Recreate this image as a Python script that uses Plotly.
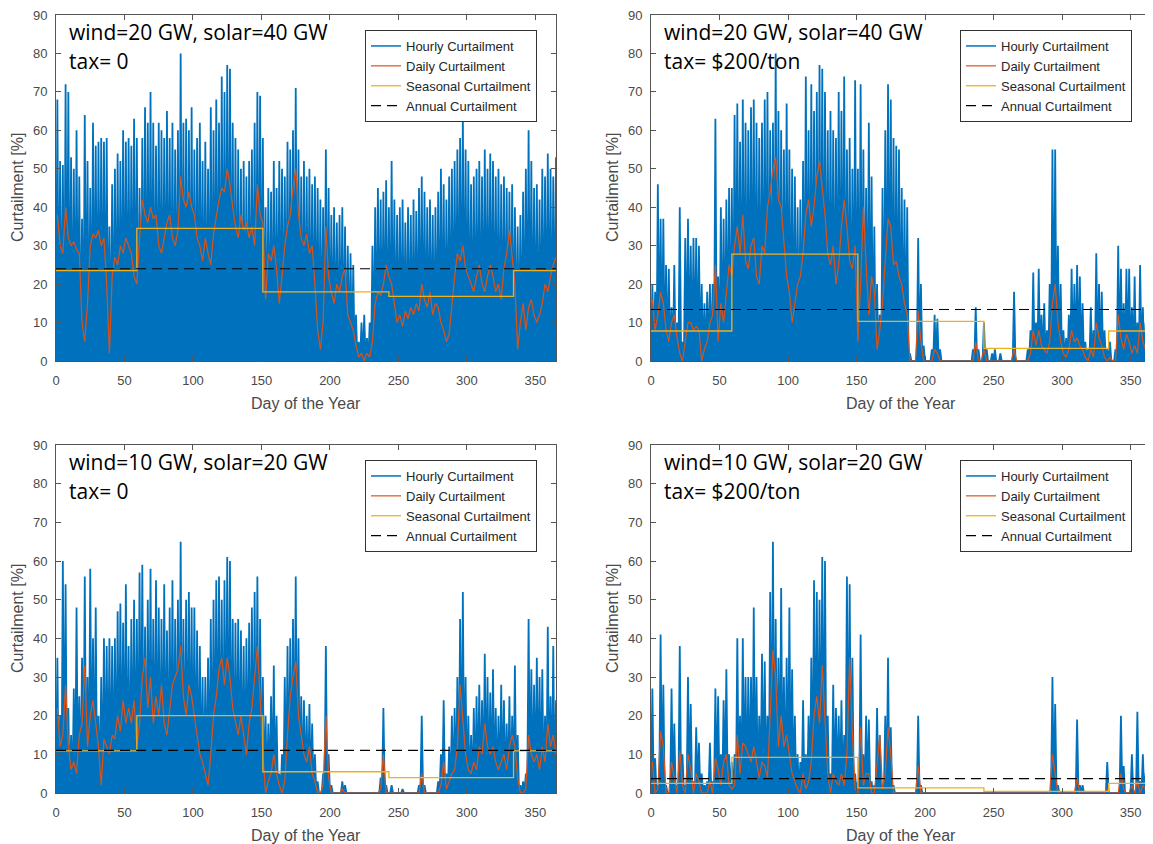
import plotly.graph_objects as go

# The page body has an 8 px margin, so the figure is drawn 8 px in from the
# top-left corner of the 1153x844 window; size and position are compensated.
PAGE_W, PAGE_H, OFF = 1153, 844, 8
W, H = PAGE_W - OFF, PAGE_H - OFF

# ---------------- data ----------------
days = list(range(1, 366, 2))                # 2-day bins, centre day
season_edges = [0, 59, 151, 243, 334, 365]   # Jan-Feb, Mar-May, Jun-Aug, Sep-Nov, Dec
x_ticks = [0, 50, 100, 150, 200, 250, 300, 350]
y_ticks = [0, 10, 20, 30, 40, 50, 60, 70, 80, 90]

# top-left: wind=20 GW, solar=40 GW, tax=0
TL_hourly_peak = [
    68, 52, 51, 72, 70, 53, 50, 60, 48, 37,
    64, 52, 45, 62, 56, 57, 58, 57, 58, 35,
    46, 50, 54, 52, 60, 57, 58, 56, 63, 58,
    45, 58, 66, 62, 70, 62, 56, 62, 60, 58,
    65, 58, 62, 55, 60, 80, 62, 63, 60, 66,
    55, 58, 62, 52, 57, 50, 66, 60, 68, 62,
    74, 70, 77, 76, 62, 58, 55, 50, 52, 48,
    52, 55, 62, 70, 69, 58, 40, 45, 44, 52,
    45, 52, 50, 48, 57, 55, 60, 71, 55, 48,
    52, 48, 50, 46, 48, 45, 42, 40, 55, 45,
    38, 40, 36, 38, 40, 35, 30, 28, 25, 12,
    5, 10, 12, 6, 10, 30, 40, 45, 42, 44,
    47, 40, 52, 42, 38, 40, 42, 36, 40, 38,
    42, 39, 45, 48, 44, 40, 42, 38, 40, 44,
    50, 46, 42, 48, 50, 52, 55, 58, 64, 55,
    52, 46, 48, 50, 52, 48, 55, 50, 54, 52,
    48, 50, 46, 48, 45, 44, 46, 40, 35, 38,
    44, 50, 60, 52, 45, 46, 42, 50, 48, 54,
    50, 48, 53]
TL_daily = [
    38, 30, 28, 40, 32, 30, 31, 29, 28, 10,
    5, 15, 30, 33, 32, 34, 30, 32, 20, 2,
    22, 27, 25, 30, 28, 32, 30, 28, 22, 20,
    32, 42, 38, 36, 40, 37, 38, 30, 28, 32,
    36, 38, 32, 30, 34, 48, 42, 40, 44, 40,
    38, 32, 30, 26, 32, 28, 25, 33, 38, 42,
    45, 44, 50, 46, 40, 35, 32, 38, 34, 36,
    32, 35, 30, 46, 38, 36, 16, 28, 26, 30,
    24, 15, 22, 30, 35, 38, 45, 50, 38, 32,
    30, 33, 28, 30, 20, 8, 3, 10, 35, 22,
    18, 15, 20, 18, 22, 24, 12, 10, 8, 4,
    1, 2, 0, 2, 1, 5, 15, 18, 17, 20,
    25, 22, 20, 15, 10, 12, 9, 13, 11, 14,
    12, 15, 13, 20, 16, 14, 18, 12, 15, 14,
    10, 8, 5, 7, 15, 22, 28, 26, 30, 24,
    22, 20, 18, 22, 25, 20, 18, 22, 25, 22,
    18, 20, 16, 24, 28, 34, 26, 20, 3, 10,
    15, 8, 14, 16, 12, 10, 12, 15, 20, 18,
    22, 25, 27]
TL_seasonal = [23.5, 34.5, 18.0, 16.8, 23.5]
TL_annual = 24.0

# top-right: wind=20 GW, solar=40 GW, tax=$200/ton
TR_hourly_peak = [
    20, 18, 46, 37, 37, 25, 24, 14, 25, 10,
    40, 5, 32, 37, 30, 32, 32, 30, 20, 15,
    18, 20, 20, 63, 22, 40, 37, 42, 45, 45,
    64, 67, 57, 68, 62, 60, 66, 68, 62, 58,
    62, 68, 70, 60, 62, 80, 65, 60, 55, 67,
    55, 50, 48, 40, 42, 52, 74, 60, 72, 65,
    70, 77, 76, 70, 60, 65, 60, 58, 70, 65,
    74, 55, 58, 50, 73, 50, 72, 55, 45, 62,
    48, 35, 20, 12, 45, 60, 72, 68, 58, 56,
    55, 45, 42, 40, 2, 0, 0, 32, 20, 4,
    0, 0, 3, 12, 11, 3, 0, 0, 0, 0,
    0, 0, 0, 0, 0, 0, 0, 3, 14, 3,
    0, 10, 3, 0, 2, 3, 0, 2, 0, 0,
    0, 0, 18, 0, 0, 0, 0, 3, 8, 23,
    10, 24, 12, 15, 8, 20, 55, 55, 30, 20,
    8, 6, 12, 24, 20, 25, 22, 15, 5, 3,
    14, 8, 28, 20, 18, 8, 3, 5, 0, 3,
    30, 24, 15, 24, 24, 14, 22, 10, 25, 14,
    10, 6, 4]
TR_daily = [
    16, 8, 12, 18, 15, 8, 5, 10, 12, 6,
    2, 0, 5, 10, 10, 8, 9, 8, 0, 3,
    5, 10, 12, 25, 5, 15, 10, 18, 25, 22,
    30, 35, 28, 38, 26, 24, 30, 32, 22, 20,
    30, 28, 40, 44, 50, 53, 42, 40, 30, 22,
    18, 10, 15, 20, 22, 28, 38, 42, 35, 40,
    48, 52, 45, 38, 28, 25, 30, 20, 25, 35,
    42, 35, 26, 24, 30, 5, 20, 40, 25, 12,
    22, 18, 3, 8, 15, 25, 37, 35, 25, 26,
    22, 20, 15, 12, 0, 0, 0, 13, 5, 0,
    0, 0, 0, 3, 2, 0, 0, 0, 0, 0,
    0, 0, 0, 0, 0, 0, 0, 0, 5, 0,
    0, 3, 0, 0, 0, 0, 0, 0, 0, 0,
    0, 0, 3, 0, 0, 0, 0, 0, 2, 8,
    4, 8, 4, 3, 2, 5, 15, 20, 10, 5,
    2, 1, 3, 8, 5, 6, 4, 3, 1, 0,
    3, 1, 10, 6, 4, 1, 0, 1, 0, 0,
    12, 6, 3, 7, 5, 2, 4, 2, 10, 5,
    3, 1, 1]
TR_seasonal = [7.8, 27.8, 10.3, 3.3, 7.8]
TR_annual = 13.4

# bottom-left: wind=10 GW, solar=20 GW, tax=0
BL_hourly_peak = [
    35, 20, 60, 54, 22, 15, 27, 48, 25, 35,
    56, 30, 58, 40, 48, 20, 30, 40, 38, 40,
    38, 40, 47, 49, 44, 54, 38, 45, 50, 45,
    57, 59, 43, 50, 58, 45, 55, 48, 45, 54,
    42, 48, 55, 45, 50, 65, 45, 50, 52, 48,
    48, 42, 38, 30, 30, 35, 45, 50, 55, 56,
    50, 55, 61, 60, 45, 44, 45, 42, 38, 40,
    44, 48, 52, 56, 45, 30, 20, 18, 25, 33,
    20, 5, 10, 30, 38, 40, 45, 56, 40, 25,
    24, 20, 23, 18, 10, 3, 0, 5, 38, 10,
    2, 0, 0, 0, 3, 2, 0, 0, 0, 0,
    0, 0, 0, 0, 0, 0, 0, 0, 4, 22,
    2, 0, 2, 0, 0, 0, 1, 0, 0, 0,
    0, 0, 2, 20, 2, 0, 0, 0, 0, 3,
    10, 24, 5, 12, 20, 22, 30, 45, 52, 30,
    20, 15, 22, 25, 28, 24, 36, 30, 26, 32,
    22, 20, 28, 24, 18, 25, 20, 33, 15, 2,
    3, 5, 45, 32, 28, 35, 30, 32, 20, 43,
    25, 38, 24]
BL_daily = [
    22, 12, 15, 28, 12, 6, 8, 5, 15, 18,
    33, 12, 20, 24, 18, 12, 2, 14, 12, 10,
    15, 14, 20, 16, 24, 18, 22, 18, 24, 12,
    18, 30, 35, 22, 30, 18, 25, 20, 28, 18,
    15, 22, 28, 30, 32, 38, 25, 20, 28, 25,
    20, 15, 10, 8, 5, 2, 10, 20, 25, 32,
    35, 28, 35, 30, 22, 18, 15, 20, 15, 10,
    18, 22, 30, 38, 25, 10, 0, 3, 5, 10,
    5, 2, 0, 3, 15, 25, 30, 34, 20, 15,
    10, 8, 12, 5, 3, 0, 0, 2, 20, 4,
    0, 0, 0, 0, 1, 0, 0, 0, 0, 0,
    0, 0, 0, 0, 0, 0, 0, 0, 1, 10,
    0, 0, 0, 0, 0, 0, 0, 0, 0, 0,
    0, 0, 0, 5, 0, 0, 0, 0, 0, 0,
    2, 8, 1, 3, 5, 6, 12, 28, 20, 10,
    6, 5, 8, 6, 12, 10, 18, 12, 10, 12,
    8, 6, 8, 10, 6, 12, 15, 12, 4, 0,
    0, 1, 15, 10, 8, 10, 6, 12, 8, 18,
    12, 15, 10]
BL_seasonal = [10.9, 20.0, 5.5, 4.0, 10.9]
BL_annual = 11.0

# bottom-right: wind=10 GW, solar=20 GW, tax=$200/ton
BR_hourly_peak = [
    27, 9, 2, 41, 28, 2, 0, 27, 18, 2,
    38, 10, 2, 30, 23, 3, 17, 13, 5, 2,
    3, 13, 3, 27, 25, 10, 24, 32, 10, 8,
    10, 40, 20, 40, 30, 30, 30, 48, 30, 20,
    36, 34, 20, 52, 65, 45, 35, 53, 30, 35,
    48, 32, 20, 10, 8, 24, 10, 20, 35, 55,
    52, 50, 61, 60, 20, 5, 28, 22, 20, 24,
    15, 56, 54, 35, 5, 3, 41, 10, 20, 19,
    3, 2, 22, 15, 2, 20, 35, 17, 2, 0,
    0, 0, 0, 0, 0, 0, 0, 20, 2, 0,
    0, 0, 0, 0, 0, 0, 0, 0, 0, 0,
    0, 0, 0, 0, 0, 0, 0, 0, 0, 0,
    0, 0, 0, 0, 0, 0, 0, 0, 0, 0,
    0, 0, 0, 0, 0, 0, 0, 0, 0, 0,
    0, 0, 0, 0, 0, 0, 30, 23, 2, 0,
    0, 0, 0, 0, 0, 19, 2, 2, 0, 0,
    0, 0, 0, 0, 0, 0, 8, 0, 0, 0,
    0, 20, 7, 0, 0, 10, 0, 21, 3, 10,
    5, 0, 0]
BR_daily = [
    8, 0, 1, 16, 12, 0, 0, 8, 4, 0,
    11, 2, 0, 10, 6, 0, 5, 3, 0, 0,
    0, 3, 0, 9, 6, 2, 8, 10, 2, 1,
    2, 15, 5, 13, 12, 10, 8, 12, 8, 4,
    8, 7, 4, 20, 37, 30, 12, 20, 12, 15,
    10, 5, 3, 1, 0, 5, 1, 3, 8, 20,
    25, 18, 33, 20, 5, 0, 5, 3, 2, 5,
    2, 10, 35, 15, 1, 0, 17, 2, 5, 5,
    0, 0, 8, 15, 1, 5, 17, 10, 0, 0,
    0, 0, 0, 0, 0, 0, 0, 7, 0, 0,
    0, 0, 0, 0, 0, 0, 0, 0, 0, 0,
    0, 0, 0, 0, 0, 0, 0, 0, 0, 0,
    0, 0, 0, 0, 0, 0, 0, 0, 0, 0,
    0, 0, 0, 0, 0, 0, 0, 0, 0, 0,
    0, 0, 0, 0, 0, 0, 10, 5, 0, 0,
    0, 0, 0, 0, 0, 4, 0, 0, 0, 0,
    0, 0, 0, 0, 0, 0, 1, 0, 0, 0,
    0, 5, 1, 0, 0, 2, 0, 3, 0, 2,
    1, 0, 0]
BR_seasonal = [2.5, 9.2, 1.3, 0.4, 2.5]
BR_annual = 3.7

series_names = ["Hourly Curtailment", "Daily Curtailment",
                "Seasonal Curtailment", "Annual Curtailment"]
labels = [("wind=20 GW, solar=40 GW", "tax= 0"),
          ("wind=20 GW, solar=40 GW", "tax= $200/ton"),
          ("wind=10 GW, solar=20 GW", "tax= 0"),
          ("wind=10 GW, solar=20 GW", "tax= $200/ton")]

# ---------------- styling / layout ----------------
BLUE, ORANGE, YELLOW = "#0072BD", "#D95319", "#EDB120"
AX = "#555555"
TXT = "#4a4a4a"
SANS = "Liberation Sans, Arial, sans-serif"
TICKFONT = dict(family=SANS, size=13, color=TXT)


def px(xp):
    return (xp - OFF) / W


def py(yp):
    return 1 - (yp - OFF) / H


# panel boxes in page pixels: left, right, top, bottom, x-max
boxes = [(56, 556, 15, 361, 365.0),
         (651, 1153, 15, 361, 366.4),
         (56, 556, 445, 793, 365.0),
         (651, 1153, 445, 793, 366.4)]

panels = [
    (TL_hourly_peak, TL_daily, TL_seasonal, TL_annual),
    (TR_hourly_peak, TR_daily, TR_seasonal, TR_annual),
    (BL_hourly_peak, BL_daily, BL_seasonal, BL_annual),
    (BR_hourly_peak, BR_daily, BR_seasonal, BR_annual),
]


def spikes(peaks):
    """Hourly curve drawn as daily spikes: zero between bins, peak at bin centre."""
    xs, ys = [], []
    for d, p in zip(days, peaks):
        xs += [d - 1, d]
        ys += [0, p]
    xs.append(days[len(peaks) - 1] + 1)
    ys.append(0)
    return xs, ys


fig = go.Figure()
layout = {}
annotations = []

for k, ((peak, daily, seas, annual), (l, r, t, b, xmax), (txt1, txt2)) in enumerate(
        zip(panels, boxes, labels), start=1):
    xa = "x" if k == 1 else f"x{k}"
    ya = "y" if k == 1 else f"y{k}"
    lg = "legend" if k == 1 else f"legend{k}"

    sx, sy = spikes(peak)
    fig.add_trace(go.Scatter(x=sx, y=sy, mode="lines", line=dict(color=BLUE, width=1.8),
                             fill="tozeroy", fillcolor=BLUE, showlegend=False,
                             hoverinfo="skip", xaxis=xa, yaxis=ya))
    # legend entry for the hourly curve (line symbol, like the original)
    fig.add_trace(go.Scatter(x=[None], y=[None], mode="lines", line=dict(color=BLUE, width=1.5),
                             name=series_names[0], legend=lg, xaxis=xa, yaxis=ya))
    fig.add_trace(go.Scatter(x=days[:len(daily)], y=daily, mode="lines",
                             line=dict(color=ORANGE, width=1.2),
                             name=series_names[1], legend=lg, xaxis=xa, yaxis=ya))
    fig.add_trace(go.Scatter(x=season_edges, y=seas + [seas[-1]], mode="lines",
                             line=dict(color=YELLOW, width=1.3, shape="hv"),
                             name=series_names[2], legend=lg, xaxis=xa, yaxis=ya))
    fig.add_trace(go.Scatter(x=[season_edges[0], season_edges[-1]], y=[annual, annual],
                             mode="lines", line=dict(color="black", width=1.2, dash="10px,6px"),
                             name=series_names[3], legend=lg, xaxis=xa, yaxis=ya))

    common = dict(showline=True, linecolor=AX, linewidth=1, mirror="ticks",
                  ticks="inside", ticklen=5, tickcolor=AX, tickwidth=1,
                  showgrid=False, zeroline=False, tickfont=TICKFONT, fixedrange=True,
                  automargin=False, ticklabeloverflow="allow")
    layout["xaxis" if k == 1 else f"xaxis{k}"] = dict(
        common, domain=[px(l), min(px(r), 1.0)], range=[0, xmax], tickvals=x_ticks,
        anchor=ya, ticklabelstandoff=7)
    layout["yaxis" if k == 1 else f"yaxis{k}"] = dict(
        common, domain=[py(b), py(t)], range=[0, 90], tickvals=y_ticks,
        anchor=xa, ticklabelstandoff=5)
    layout[lg] = dict(x=px(l + 309), y=py(t + 15), xanchor="left", yanchor="top",
                      bgcolor="white", bordercolor="#333333", borderwidth=1,
                      font=dict(family=SANS, size=13, color="#262626"),
                      traceorder="normal")

    # axis titles
    annotations.append(dict(text="Curtailment [%]", textangle=-90, x=px(l - 39),
                            y=py((t + b) / 2), xref="paper", yref="paper",
                            showarrow=False, xanchor="center", yanchor="middle",
                            font=dict(family=SANS, size=16, color=TXT)))
    annotations.append(dict(text="Day of the Year", x=px(l + 250), y=py(b + 42),
                            xref="paper", yref="paper", showarrow=False,
                            xanchor="center", yanchor="middle",
                            font=dict(family=SANS, size=16, color=TXT)))
    # scenario text
    for txt, dy in ((txt1, 17), (txt2, 46)):
        annotations.append(dict(text=txt, x=px(l + 11), y=py(t + dy),
                                xref="paper", yref="paper", showarrow=False,
                                xanchor="left", yanchor="middle",
                                font=dict(family="Open Sans, sans-serif", size=21,
                                          color="black")))

fig.update_layout(
    template="none",
    width=W, height=H, margin=dict(l=0, r=0, t=0, b=0, autoexpand=False),
    paper_bgcolor="white", plot_bgcolor="white",
    annotations=annotations, **layout)

fig.write_html("out.html")
